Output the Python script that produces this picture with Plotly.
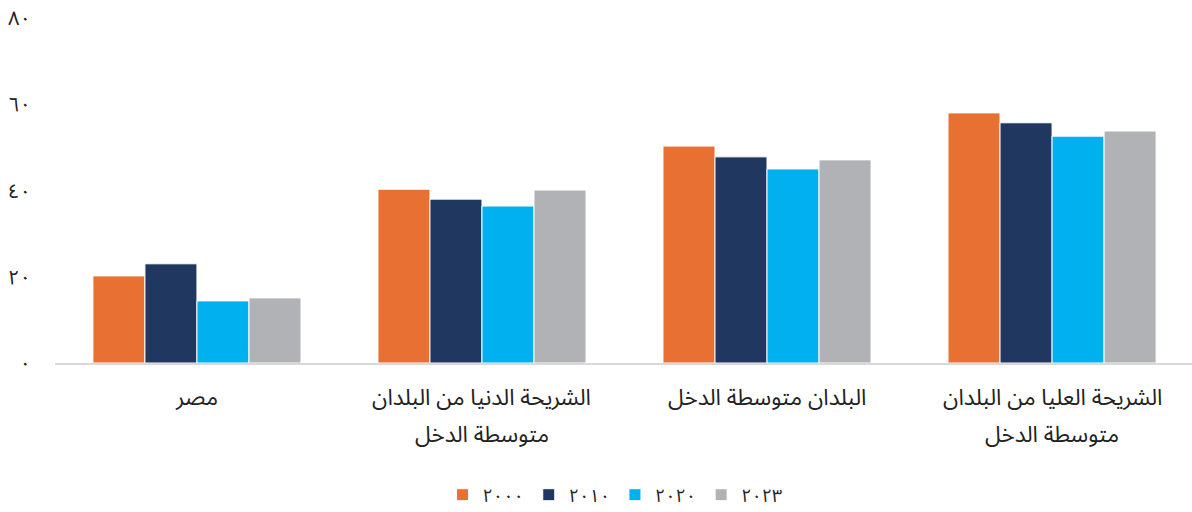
import plotly.graph_objects as go

categories = ["مصر", "الدنيا", "المتوسطة", "العليا"]
label_line1 = [
    "مصر",
    "الشريحة الدنيا من البلدان",
    "البلدان متوسطة الدخل",
    "الشريحة العليا من البلدان",
]
label_line2 = ["", "متوسطة الدخل", "", "متوسطة الدخل"]
series_names = ["٢٠٠٠", "٢٠١٠", "٢٠٢٠", "٢٠٢٣"]
values_2000 = [20.2, 40.3, 50.3, 58.0]
values_2010 = [23.0, 38.0, 47.8, 55.7]
values_2020 = [14.4, 36.4, 45.0, 52.6]
values_2023 = [15.1, 40.1, 47.1, 53.8]
colors = ["#E87033", "#20375F", "#00B0EF", "#B1B2B5"]
y_tickvals = [0, 20, 40, 60, 80]
y_ticktext = ["٠", "٢٠", "٤٠", "٦٠", "٨٠"]

font_family = "Noto Sans Arabic, DejaVu Sans, sans-serif"
text_color = "#222222"

fig = go.Figure()
for name, vals, col in zip(series_names, [values_2000, values_2010, values_2020, values_2023], colors):
    fig.add_trace(go.Bar(
        x=categories, y=vals, name=name,
        marker=dict(color=col, line=dict(color="white", width=1)),
    ))

# category labels (two lines with wider line spacing)
for cat, l1, l2 in zip(categories, label_line1, label_line2):
    fig.add_annotation(x=cat, xref="x", y=0, yref="y", yshift=-35, text=l1,
                       showarrow=False, yanchor="middle", xanchor="center",
                       font=dict(size=22.5, color=text_color, family=font_family))
    if l2:
        fig.add_annotation(x=cat, xref="x", y=0, yref="y", yshift=-72, text=l2,
                           showarrow=False, yanchor="middle", xanchor="center",
                           font=dict(size=22.5, color=text_color, family=font_family))

fig.update_layout(
    width=1192, height=512,
    barmode="group", bargap=0.27, bargroupgap=0,
    plot_bgcolor="white", paper_bgcolor="white",
    margin=dict(l=55, r=0, t=18, b=149, autoexpand=False),
    font=dict(family=font_family, size=18, color=text_color),
    showlegend=True,
    legend=dict(orientation="h", xref="container", x=0.516, xanchor="center",
                yref="container", y=1 - 495 / 512, yanchor="middle",
                font=dict(size=18, color=text_color), traceorder="normal"),
)
fig.update_xaxes(range=[-0.498, 3.491], showgrid=False, showline=True, linecolor="#D9D9D9", linewidth=2,
                 ticks="", showticklabels=False, automargin=False)
fig.update_yaxes(range=[0, 80], tickvals=y_tickvals, ticktext=y_ticktext, showgrid=False,
                 zeroline=False, showline=False, ticks="", automargin=False,
                 ticklabeloverflow="allow",
                 tickfont=dict(size=20, color=text_color), ticklabelstandoff=23)

fig.write_html("out.html", config={"displayModeBar": False},
               post_script="document.body.style.margin='0';document.body.style.padding='0';")
